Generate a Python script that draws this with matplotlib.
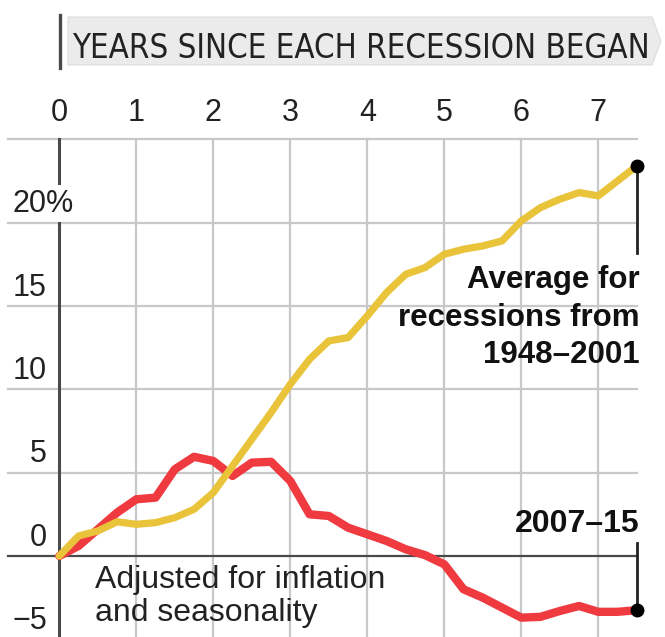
import matplotlib
matplotlib.use("Agg")
import matplotlib.pyplot as plt
import numpy as np
from matplotlib import font_manager
from matplotlib.patches import Polygon

# quarterly cumulative change since each recession began, in %
years = np.arange(31) / 4.0
avg_1948_2001 = [0, 1.2, 1.5, 2.05, 1.9, 2.0, 2.3, 2.8, 3.8, 5.4, 7.0, 8.6, 10.3,
                 11.8, 12.9, 13.1, 14.4, 15.8, 16.9, 17.3, 18.1, 18.4, 18.6, 18.9,
                 20.1, 20.9, 21.4, 21.8, 21.6, 22.5, 23.4]
rec_2007_15 = [0, 0.6, 1.6, 2.6, 3.4, 3.5, 5.2, 5.95, 5.7, 4.8, 5.6, 5.65, 4.5,
               2.5, 2.4, 1.7, 1.3, 0.9, 0.4, 0.05, -0.5, -2.0, -2.5, -3.1,
               -3.7, -3.65, -3.3, -3.0, -3.35, -3.35, -3.25]

x_ticks = [0, 1, 2, 3, 4, 5, 6, 7]
y_ticks = [-5, 0, 5, 10, 15, 20]
y_labels = ["\u22125", "0", "5", "10", "15", "20%"]
title = "YEARS SINCE EACH RECESSION BEGAN"

plt.rcParams["font.family"] = ["Liberation Sans", "DejaVu Sans"]

# a condensed face for the banner if one is around
title_font = {"family": ["Liberation Sans", "DejaVu Sans"]}
for f in font_manager.fontManager.ttflist:
    if f.stretch in ("condensed", "semi-condensed") and f.style == "normal" \
            and f.weight in (400, "normal", "regular"):
        title_font = {"family": [f.name, "DejaVu Sans"], "stretch": f.stretch}
        break

YELLOW = "#e9c43a"
RED = "#ef3a40"
GRID = "#c8c8c8"
DARK = "#4a4a4a"

fig = plt.figure(figsize=(6.65, 6.37), dpi=100)
ax = fig.add_axes([0, 0, 1, 1])
ax.set_xlim(-0.770, 7.866)
ax.set_ylim(-4.86, 33.35)
ax.axis("off")

x_end = years[-1]
x_left = -0.67

# grid
for x in x_ticks[1:]:
    ax.plot([x, x], [25, -6], color=GRID, lw=1.6, zorder=1)
for y in [5, 10, 15, 20, 25]:
    ax.plot([x_left, x_end], [y, y], color=GRID, lw=1.6, zorder=1)
ax.plot([x_left, x_end], [0, 0], color=DARK, lw=1.6, zorder=2)
# left axis, broken where the 20% label sits
ax.plot([0, 0], [25, 22.4], color=DARK, lw=2.2, zorder=2)
ax.plot([0, 0], [20, -6], color=DARK, lw=2.2, zorder=2)

# tick labels
for x in x_ticks:
    ax.text(x, 26.6, str(x), ha="center", va="center", fontsize=22, color="#222222")
for y, lab in zip(y_ticks, y_labels):
    if lab.endswith("%"):
        ax.text(-0.614, y + 1.1, lab, ha="left", va="center", fontsize=22, color="#222222")
    else:
        ax.text(-0.16, y + 1.1, lab, ha="right", va="center", fontsize=22, color="#222222")

# series
ax.plot(years, rec_2007_15, color=RED, lw=6, solid_joinstyle="round",
        solid_capstyle="round", zorder=3)
ax.plot(years, avg_1948_2001, color=YELLOW, lw=5.2, solid_joinstyle="round",
        solid_capstyle="round", zorder=4)

# end markers and leader lines
ax.plot([x_end, x_end], [avg_1948_2001[-1], 18.2], color="#222222", lw=2, zorder=5)
ax.plot([x_end, x_end], [rec_2007_15[-1], 0.8], color="#222222", lw=2, zorder=5)
ax.plot([x_end, x_end], [avg_1948_2001[-1], rec_2007_15[-1]], "o", color="black",
        ms=9, zorder=6)

ax.text(7.54, 17.45, "Average for\nrecessions from\n1948\u20132001", ha="right", va="top",
        fontsize=22.5, fontweight="bold", color="#111111", linespacing=1.33)
ax.text(7.54, 1.9, "2007\u201315", ha="right", va="center", fontsize=23,
        fontweight="bold", color="#111111")
ax.text(0.46, -0.52, "Adjusted for inflation\nand seasonality", ha="left", va="top",
        fontsize=23, color="#222222", linespacing=1.13)

# title banner with arrow tip
W, H = 665.0, 637.0
banner = [(68, 17), (652, 17), (661, 41), (652, 65), (68, 65)]
fig.patches.append(Polygon([(px / W, 1 - py / H) for px, py in banner], closed=True,
                           transform=fig.transFigure, facecolor="#ebebeb",
                           edgecolor="#dcdcdc", lw=0.8, zorder=0))
fig.add_artist(plt.Line2D([60 / W, 60 / W], [1 - 15 / H, 1 - 68 / H], color=DARK,
                          lw=2.4, transform=fig.transFigure))
t = fig.text(72 / W, 1 - 49 / H, title, ha="left", va="center", fontsize=25,
             color="#222222", **title_font)
# shrink the banner text until it fits inside the box
renderer = fig.canvas.get_renderer()
w = t.get_window_extent(renderer).width
if w > 580:
    t.set_fontsize(25 * 580 / w)

fig.savefig("out.png", dpi=100, facecolor="white")
